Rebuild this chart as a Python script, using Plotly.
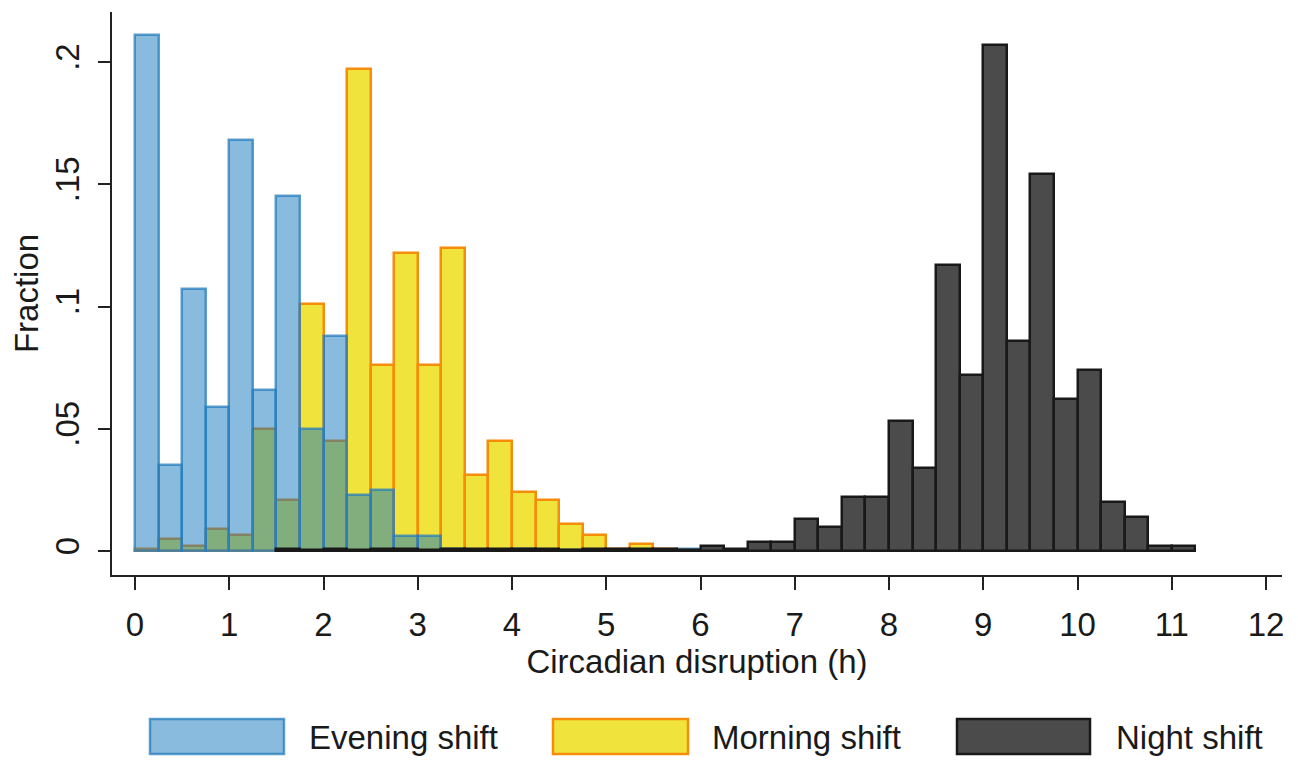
import plotly.graph_objects as go

# ---- data (histogram bins of 0.25 h; value = fraction) ----
bin_start = [0.0, 0.25, 0.5, 0.75, 1.0, 1.25, 1.5, 1.75, 2.0, 2.25, 2.5, 2.75, 3.0, 3.25, 3.5,
             3.75, 4.0, 4.25, 4.5, 4.75, 5.0, 5.25, 5.5, 5.75, 6.0, 6.25, 6.5, 6.75, 7.0, 7.25,
             7.5, 7.75, 8.0, 8.25, 8.5, 8.75, 9.0, 9.25, 9.5, 9.75, 10.0, 10.25, 10.5, 10.75, 11.0]
bin_width = 0.25

evening = [0.211, 0.035, 0.107, 0.059, 0.168, 0.066, 0.145, 0.050, 0.088, 0.023, 0.025, 0.006, 0.006,
           0.0008, 0.0005, 0.0005, 0.001, 0.0005, 0.0005, 0.0005, 0.0005, 0.0003, 0.0003, 0.001, None,
           None, None, None, None, None, None, None, None, None, None, None, None, None, None, None,
           None, None, None, None, None]
morning = [0.001, 0.005, 0.002, 0.009, 0.0065, 0.050, 0.021, 0.101, 0.045, 0.197, 0.076, 0.122, 0.076,
           0.124, 0.031, 0.045, 0.024, 0.021, 0.011, 0.0065, 0.001, 0.003, 0.001, 0.0005, 0.0005,
           None, None, None, None, None, None, None, None, None, None, None, None, None, None, None,
           None, None, None, None, None]
night = [None, None, None, None, None, None, 0.001, 0.0003, 0.001, 0.0003, 0.001, 0.001, 0.0005, 0.001,
         0.001, 0.001, 0.001, 0.0008, 0.0005, 0.001, 0.001, 0.001, 0.0008, 0.0005, 0.002, 0.001, 0.0035,
         0.0035, 0.013, 0.010, 0.022, 0.022, 0.053, 0.034, 0.117, 0.072, 0.207, 0.086, 0.154, 0.062,
         0.074, 0.020, 0.014, 0.002, 0.002]

x_ticks = list(range(0, 13))
y_ticks = [0, 0.05, 0.1, 0.15, 0.2]
y_ticktext = ["0", ".05", ".1", ".15", ".2"]

series_names = ["Evening shift", "Morning shift", "Night shift"]

# ---- styles ----
FONT = "Liberation Sans, Arial, sans-serif"
FS = 33
TXT = "#1a1a1a"
styles = {
    "Morning shift": dict(fill="rgb(240,228,60)", line="rgb(245,140,10)"),
    "Evening shift": dict(fill="rgba(20,120,190,0.5)", line="rgba(40,125,190,0.75)"),
    "Night shift": dict(fill="rgb(75,75,75)", line="rgb(25,25,25)"),
}
values = {"Evening shift": evening, "Morning shift": morning, "Night shift": night}

fig = go.Figure()
for name in ["Morning shift", "Evening shift", "Night shift"]:
    st = styles[name]
    fig.add_trace(go.Bar(
        x=bin_start, y=values[name], width=bin_width, offset=0, name=name,
        marker=dict(color=st["fill"], line=dict(color=st["line"], width=2.5)),
        showlegend=False,
    ))

# page is rendered with an 8px body margin; lay out in page pixels
OFF = 8
W, H = 1298 - OFF, 761 - OFF
PL, PR, PT, PB = 112, 1282, 12, 575          # plot area in page pixels
L, R, T, B = PL - OFF, (W + OFF) - PR, PT - OFF, (H + OFF) - PB
x0_px, x_per = 135.0, 94.25
y0_px, y_per = 551.0, 2445.0
x_lo = (PL - x0_px) / x_per
x_hi = (PR - x0_px) / x_per
y_lo = (y0_px - PB) / y_per
y_hi = (y0_px - PT) / y_per

fig.update_layout(
    width=W, height=H, barmode="overlay", bargap=0,
    margin=dict(l=L, r=R, t=T, b=B, pad=0),
    plot_bgcolor="white", paper_bgcolor="white",
    font=dict(family=FONT, size=FS, color=TXT),
)
fig.update_xaxes(
    range=[x_lo, x_hi], tickvals=x_ticks, showline=True, linecolor="#222", linewidth=2,
    ticks="outside", ticklen=13, tickwidth=2, tickcolor="#222", showgrid=False, zeroline=False,
    tickfont=dict(size=FS), ticklabelstandoff=6,
    title=dict(text="Circadian disruption (h)", font=dict(size=FS), standoff=2),
)
fig.update_yaxes(
    range=[y_lo, y_hi], tickvals=y_ticks, ticktext=y_ticktext, tickangle=-90,
    showline=True, linecolor="#222", linewidth=2,
    ticks="outside", ticklen=12, tickwidth=2, tickcolor="#222", showgrid=False, zeroline=False,
    tickfont=dict(size=FS), ticklabelstandoff=6,
    title=dict(text="Fraction", font=dict(size=FS), standoff=6),
)

# ---- legend drawn as keys + labels below the plot (page pixel positions) ----
pw, ph = PR - PL, PB - PT
def px_x(px):
    return (px - PL) / pw
def px_y(py):
    return (PB - py) / ph

legend_keys = [(150, 284, 307), (553, 688, 710), (957, 1090, 1114)]
for name, (kx0, kx1, tx) in zip(series_names, legend_keys):
    st = styles[name]
    fig.add_shape(type="rect", xref="paper", yref="paper",
                  x0=px_x(kx0), x1=px_x(kx1), y0=px_y(754), y1=px_y(719),
                  fillcolor=st["fill"], line=dict(color=st["line"], width=2.5))
    fig.add_annotation(xref="paper", yref="paper", x=px_x(tx), y=px_y(737),
                       xanchor="left", yanchor="middle", text=name, showarrow=False,
                       font=dict(size=FS, family=FONT, color=TXT))

fig.write_html("out.html")
